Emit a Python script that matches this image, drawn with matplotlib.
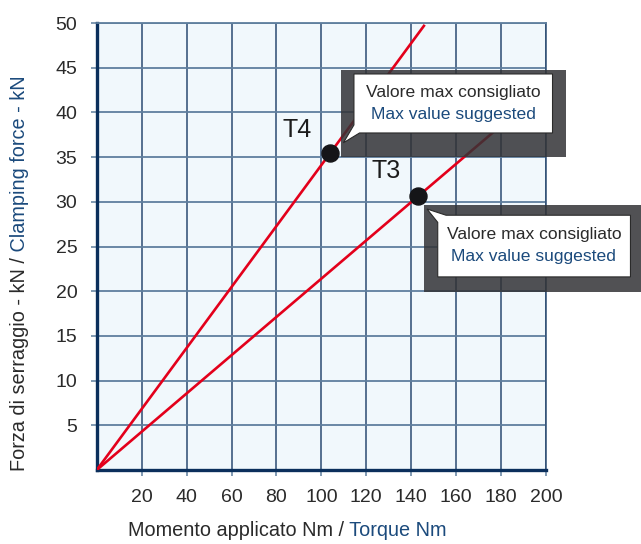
import matplotlib.pyplot as plt
import numpy as np
from matplotlib.patches import Rectangle, Polygon

plt.rcParams['font.family'] = ['Liberation Sans', 'DejaVu Sans']

# max suggested torque / clamping force for each tie rod
labels = ['T4', 'T3']
torque_max = [104, 143]
force_max = [35.5, 30.6]
# where each characteristic line stops
torque_end = [146, 185]
force_end = [49.8, 39.6]

x_ticks = [20, 40, 60, 80, 100, 120, 140, 160, 180, 200]
y_ticks = [5, 10, 15, 20, 25, 30, 35, 40, 45, 50]

navy = '#0b2f5c'
grid_h = '#5f7f9e'
grid_v = '#2b4b72'
blue_txt = '#1b4a7c'
dark_txt = '#2a2a2a'
red = '#e3001b'

fig = plt.figure(figsize=(6.41, 5.44), dpi=100)
ax = fig.add_axes([0.1509, 0.136, 0.7009, 0.8217])
ax.set_facecolor('#f1f8fc')
ax.set_xlim(0, 200)
ax.set_ylim(0, 50)
ax.set_xticks(x_ticks)
ax.set_yticks(y_ticks)

for x in x_ticks:
    ax.axvline(x, color=grid_v, lw=1.1, zorder=1)
for y in y_ticks:
    ax.axhline(y, color=grid_h, lw=1.3, zorder=1)

for s in ['left', 'bottom']:
    ax.spines[s].set_color(navy)
    ax.spines[s].set_linewidth(2.4)
ax.spines['right'].set_color(grid_v)
ax.spines['right'].set_linewidth(1.1)
ax.spines['top'].set_color(grid_h)
ax.spines['top'].set_linewidth(1.3)

ax.tick_params(axis='both', direction='out', length=4, width=1.1, color=grid_h,
               labelsize=14, labelcolor=dark_txt, pad=10)

# characteristic lines from the origin
for xe, ye in zip(torque_end, force_end):
    ax.plot([0, xe], [0, ye], color=red, lw=1.9, zorder=3, solid_capstyle='butt')

ax.scatter(torque_max, force_max, s=150, color='#151518', zorder=6, clip_on=False)

ax.text(torque_max[0] - 15, force_max[0] + 2.5, labels[0], fontsize=18,
        color='#1c1c1c', ha='center', va='center', zorder=7)
ax.text(torque_max[1] - 14, force_max[1] + 2.8, labels[1], fontsize=18,
        color='#1c1c1c', ha='center', va='center', zorder=7)


def callout(shadow, box, pointer, center):
    sx0, sx1, sy0, sy1 = shadow
    ax.add_patch(Rectangle((sx0, sy0), sx1 - sx0, sy1 - sy0, facecolor='#333336',
                           alpha=0.85, edgecolor='none', zorder=4, clip_on=False))
    ax.add_patch(Polygon(box + pointer, closed=True, facecolor='white',
                         edgecolor='#2a2a2a', lw=0.8, zorder=5, clip_on=False))
    cx, cy = center
    ax.text(cx, cy + 1.2, 'Valore max consigliato', fontsize=12.6, color=dark_txt,
            ha='center', va='center', zorder=7, clip_on=False)
    ax.text(cx, cy - 1.2, 'Max value suggested', fontsize=12.6, color=blue_txt,
            ha='center', va='center', zorder=7, clip_on=False)


# callout for T4: pointer at bottom-left corner
callout((108.7, 208.8, 35.0, 44.7),
        [(114.5, 42.0), (114.5, 44.3), (202.9, 44.3), (202.9, 37.7), (117.0, 37.7)],
        [(109.8, 36.6), (114.5, 38.6)],
        (158.7, 41.0))

# callout for T3: pointer at top-left corner
callout((145.7, 242.2, 19.9, 29.6),
        [(155.5, 28.5), (237.6, 28.5), (237.6, 21.6), (151.8, 21.6), (151.8, 27.7)],
        [(147.0, 29.2)],
        (194.6, 25.1))

# two-colour axis titles
xl = fig.text(0.199, 0.008, 'Momento applicato Nm /', fontsize=14.3, color=dark_txt,
              ha='left', va='bottom')
ax.annotate(' Torque Nm', xy=(1, 0), xycoords=xl, fontsize=14.3, color=blue_txt,
            ha='left', va='bottom')

yl = fig.text(0.016, 0.135, 'Forza di serraggio - kN /', fontsize=14.3, color=dark_txt,
              rotation=90, ha='left', va='bottom')
ax.annotate(' Clamping force - kN', xy=(0, 1), xycoords=yl, fontsize=14.3, color=blue_txt,
            rotation=90, ha='left', va='bottom')

fig.savefig('out.png', dpi=100)
